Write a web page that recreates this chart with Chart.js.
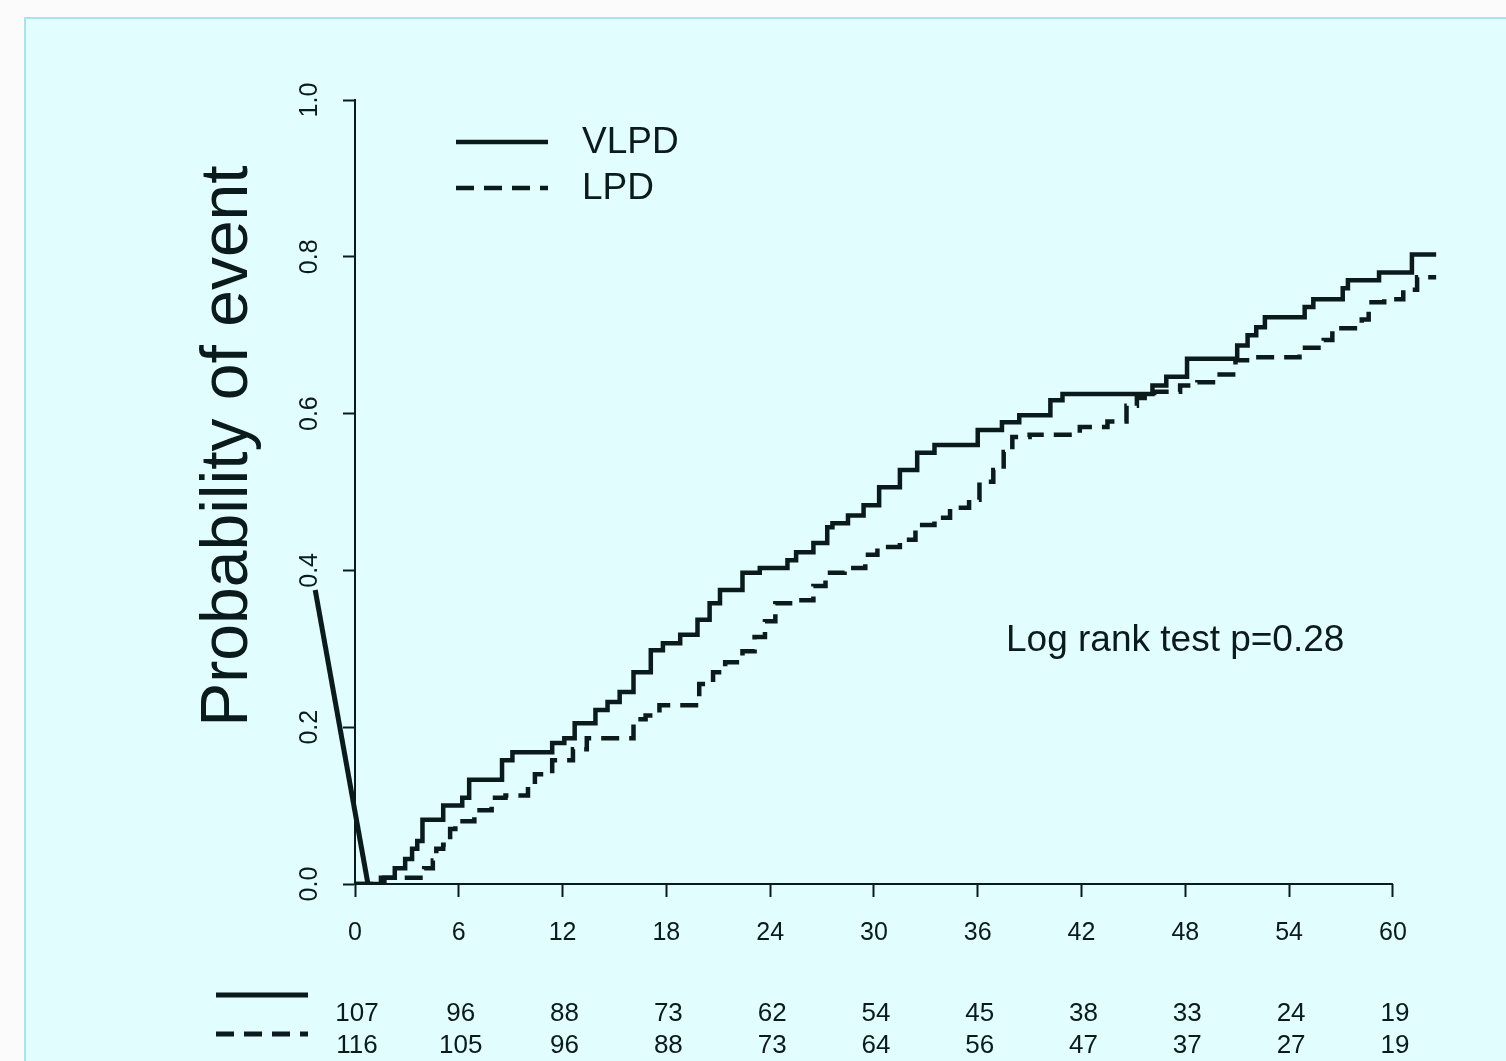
<!DOCTYPE html>
<html lang="en">
<head>
    <meta charset="UTF-8">
    <title>Probability of event - VLPD vs LPD</title>
    <style>
        html, body { margin: 0; padding: 0; background: #fbfbfb; }
        #panel {
            position: absolute; left: 24px; top: 17px;
            width: 1500px; height: 1060px;
            background: #e1fdfe;
            border-left: 2px solid #a4e6ec;
            border-top: 2px solid #a4e6ec;
        }
        #wrap { position: absolute; left: 0; top: 0; width: 1506px; height: 1061px; }
    </style>
</head>
<body>
    <div id="panel"></div>
    <div id="wrap"><canvas id="kmChart" width="1506" height="1061"></canvas></div>

    <script src="https://cdn.jsdelivr.net/npm/chart.js"></script>
    <script>
        // months where each curve steps, and the new cumulative probability
        const vlpdMonths = [0, 1.7, 2.3, 2.9, 3.3, 3.6, 3.9, 5.1, 6.2, 6.6, 8.5, 9.1, 11.4, 12.1, 12.7, 13.9, 14.6,
            15.3, 16.1, 17.1, 17.8, 18.8, 19.8, 20.5, 21.1, 22.4, 23.4, 25.0, 25.5, 26.5, 27.3, 27.6, 28.5,
            29.4, 30.3, 31.5, 32.5, 33.5, 36.0, 37.4, 38.4, 40.2, 40.9, 46.1, 46.9, 48.1, 51.0, 51.6, 52.1,
            52.6, 54.9, 55.4, 57.1, 57.4, 59.2, 61.1, 62.5];
        const vlpdProb = [0, 0.008, 0.02, 0.032, 0.045, 0.055, 0.082, 0.10, 0.11, 0.133, 0.158, 0.168, 0.18, 0.186,
            0.205, 0.222, 0.232, 0.245, 0.27, 0.298, 0.307, 0.318, 0.337, 0.358, 0.375, 0.397, 0.403, 0.413,
            0.423, 0.435, 0.455, 0.46, 0.47, 0.483, 0.506, 0.528, 0.55, 0.56, 0.579, 0.589, 0.598, 0.617,
            0.625, 0.636, 0.647, 0.67, 0.687, 0.70, 0.71, 0.723, 0.736, 0.746, 0.76, 0.77, 0.78, 0.803, 0.803];

        const lpdMonths = [0, 1.5, 4.0, 4.5, 4.7, 5.1, 5.5, 5.8, 6.9, 7.9, 8.7, 10.0, 10.4, 11.4, 12.6, 13.4, 16.1,
            16.8, 17.6, 19.9, 20.7, 21.4, 22.4, 23.1, 23.7, 24.3, 25.5, 26.5, 27.2, 28.3, 29.5, 30.2, 31.5,
            32.4, 33.5, 34.4, 35.5, 36.1, 36.9, 37.5, 38.0, 39.0, 41.9, 43.5, 44.6, 45.2, 46.2, 47.7, 48.7,
            49.8, 50.9, 52.0, 54.6, 56.0, 56.5, 58.2, 58.6, 59.5, 60.6, 61.4, 62.5];
        const lpdProb = [0, 0.008, 0.02, 0.03, 0.045, 0.05, 0.07, 0.08, 0.094, 0.11, 0.113, 0.125, 0.14, 0.158,
            0.172, 0.186, 0.21, 0.215, 0.228, 0.255, 0.27, 0.283, 0.297, 0.315, 0.335, 0.358, 0.362, 0.38,
            0.397, 0.403, 0.42, 0.43, 0.439, 0.458, 0.467, 0.48, 0.49, 0.513, 0.528, 0.551, 0.57, 0.573,
            0.583, 0.59, 0.61, 0.62, 0.628, 0.636, 0.64, 0.65, 0.668, 0.672, 0.684, 0.694, 0.709, 0.72,
            0.742, 0.746, 0.758, 0.774, 0.774];

        // stray segment drawn at the start of the solid curve in the original
        const strayMonths = [-2.3, 0.75];
        const strayProb = [0.375, 0];

        const xTicks = [0, 6, 12, 18, 24, 30, 36, 42, 48, 54, 60];
        const yTicks = [0, 0.2, 0.4, 0.6, 0.8, 1.0];
        const atRiskVLPD = [107, 96, 88, 73, 62, 54, 45, 38, 33, 24, 19];
        const atRiskLPD = [116, 105, 96, 88, 73, 64, 56, 47, 37, 27, 19];
        const seriesNames = ['VLPD', 'LPD'];
        const pValueText = 'Log rank test p=0.28';
        const yTitle = 'Probability of event';

        const ink = '#0b1a1a';
        const fontFamily = '"Liberation Sans", Arial, sans-serif';
        const dash = [18, 10];

        const toPoints = (xs, ys) => xs.map((x, i) => ({ x: x, y: ys[i] }));

        const extras = {
            id: 'extras',
            afterDraw(chart) {
                const ctx = chart.ctx;
                const xs = chart.scales.x;
                const ys = chart.scales.y;
                const area = chart.chartArea;
                ctx.save();
                ctx.strokeStyle = ink;
                ctx.fillStyle = ink;

                // x axis line from first to last tick
                ctx.lineWidth = 2;
                ctx.beginPath();
                ctx.moveTo(xs.getPixelForValue(xTicks[0]), area.bottom);
                ctx.lineTo(xs.getPixelForValue(xTicks[xTicks.length - 1]), area.bottom);
                ctx.stroke();

                // rotated y tick labels
                ctx.font = '25px ' + fontFamily;
                ctx.textAlign = 'center';
                ctx.textBaseline = 'middle';
                yTicks.forEach(v => {
                    ctx.save();
                    ctx.translate(310, ys.getPixelForValue(v));
                    ctx.rotate(-Math.PI / 2);
                    ctx.fillText(v.toFixed(1), 0, 0);
                    ctx.restore();
                });

                // y title
                ctx.save();
                ctx.font = '66px ' + fontFamily;
                ctx.translate(229, 446);
                ctx.rotate(-Math.PI / 2);
                ctx.fillText(yTitle, 0, 0);
                ctx.restore();

                // legend
                ctx.lineWidth = 4.5;
                ctx.beginPath();
                ctx.moveTo(456, 142); ctx.lineTo(548, 142);
                ctx.stroke();
                ctx.setLineDash(dash);
                ctx.beginPath();
                ctx.moveTo(456, 188); ctx.lineTo(548, 188);
                ctx.stroke();
                ctx.setLineDash([]);
                ctx.font = '37px ' + fontFamily;
                ctx.textAlign = 'left';
                ctx.fillText(seriesNames[0], 582, 143);
                ctx.fillText(seriesNames[1], 582, 189);

                // p value
                ctx.fillText(pValueText, 1006, 641);

                // number at risk table
                ctx.lineWidth = 5;
                ctx.beginPath();
                ctx.moveTo(216, 995); ctx.lineTo(308, 995);
                ctx.stroke();
                ctx.setLineDash(dash);
                ctx.beginPath();
                ctx.moveTo(216, 1034); ctx.lineTo(308, 1034);
                ctx.stroke();
                ctx.setLineDash([]);
                ctx.font = '26px ' + fontFamily;
                ctx.textAlign = 'center';
                xTicks.forEach((t, i) => {
                    const px = xs.getPixelForValue(t);
                    ctx.fillText(String(atRiskVLPD[i]), px + 2, 1014);
                    ctx.fillText(String(atRiskLPD[i]), px + 2, 1046);
                });
                ctx.restore();
            }
        };

        const ctx = document.getElementById('kmChart').getContext('2d');
        const kmChart = new Chart(ctx, {
            type: 'line',
            data: {
                datasets: [
                    {
                        label: seriesNames[0],
                        data: toPoints(vlpdMonths, vlpdProb),
                        borderColor: ink,
                        borderWidth: 4.5,
                        stepped: true,
                        pointRadius: 0,
                        fill: false
                    },
                    {
                        label: seriesNames[1],
                        data: toPoints(lpdMonths, lpdProb),
                        borderColor: ink,
                        borderWidth: 4.5,
                        borderDash: dash,
                        stepped: true,
                        pointRadius: 0,
                        fill: false
                    },
                    {
                        label: 'stray',
                        data: toPoints(strayMonths, strayProb),
                        borderColor: ink,
                        borderWidth: 5,
                        pointRadius: 0,
                        fill: false,
                        clip: false
                    }
                ]
            },
            options: {
                responsive: false,
                animation: false,
                layout: { padding: { left: 0, top: 100, right: 69, bottom: 0 } },
                plugins: {
                    legend: { display: false },
                    tooltip: { enabled: false }
                },
                scales: {
                    x: {
                        type: 'linear',
                        min: 0,
                        max: 62.55,
                        afterBuildTicks: scale => { scale.ticks = xTicks.map(v => ({ value: v })); },
                        afterFit: scale => { scale.height = 177; },
                        border: { display: false },
                        grid: {
                            drawOnChartArea: false,
                            tickLength: 13,
                            tickWidth: 2,
                            tickColor: ink
                        },
                        ticks: {
                            autoSkip: false,
                            maxRotation: 0,
                            padding: 21,
                            color: ink,
                            font: { family: fontFamily, size: 25 }
                        }
                    },
                    y: {
                        type: 'linear',
                        min: 0,
                        max: 1,
                        afterBuildTicks: scale => { scale.ticks = yTicks.map(v => ({ value: v })); },
                        afterFit: scale => { scale.width = 355; },
                        border: { display: true, color: ink, width: 2 },
                        grid: {
                            drawOnChartArea: false,
                            tickLength: 12,
                            tickWidth: 2,
                            tickColor: ink
                        },
                        ticks: { display: false }
                    }
                }
            },
            plugins: [extras]
        });
    </script>
</body>
</html>
